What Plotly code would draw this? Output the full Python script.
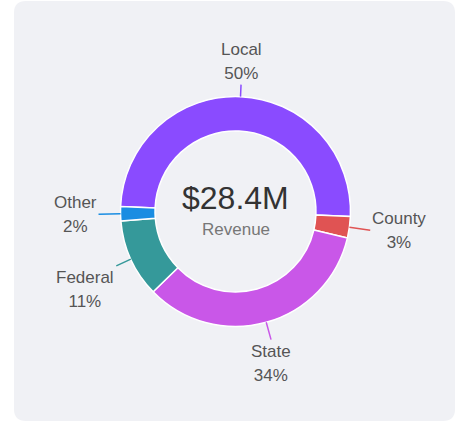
import math
import plotly.graph_objects as go

# ---- data ----
categories = ["Local", "County", "State", "Federal", "Other"]
revenue_musd = [14.2, 0.85, 9.66, 3.12, 0.57]
center_caption = "Revenue"

# ---- style ----
colors = ["#8a4bff", "#e05353", "#c957e8", "#35999a", "#1a8de2"]
leader_px = [12, 21, 18, 16, 22]  # leader line lengths per label
W, H = 462, 422
CX, CY, R = 235.5, 211.5, 115
HOLE = 0.70
ROT = -87.5
CARD = "#f0f1f5"
FONT = "Arial, Liberation Sans, sans-serif"

total = sum(revenue_musd)

fig = go.Figure()
fig.add_trace(go.Pie(
    labels=categories, values=revenue_musd, sort=False, direction="clockwise",
    rotation=ROT, hole=HOLE, textinfo="none", hoverinfo="label+percent",
    marker=dict(colors=colors, line=dict(color="#ffffff", width=1.5)),
    domain=dict(x=[(CX - R) / W, (CX + R) / W], y=[1 - (CY + R) / H, 1 - (CY - R) / H]),
    showlegend=False,
))

def px2paper(x, y):
    return x / W, 1 - y / H

annotations = []
acc = 0.0
for name, v, col, L in zip(categories, revenue_musd, colors, leader_px):
    mid = math.radians(ROT + (acc + v / 2) / total * 360)
    acc += v
    s, c = math.sin(mid), math.cos(mid)
    hx, hy = CX + R * s, CY - R * c
    xa = "left" if s > 0.3 else ("right" if s < -0.3 else "center")
    ya = "bottom" if c > 0.3 else ("top" if c < -0.3 else "middle")
    px, py = px2paper(hx, hy)
    pct = round(v / total * 100)
    annotations.append(dict(
        x=px, y=py, xref="paper", yref="paper",
        text=(f"<span style='font-size:17px'>{name}</span><br>"
              f"<span style='font-size:17px'>{pct}%</span>"),
        showarrow=True, arrowhead=0, arrowwidth=1.5,
        arrowcolor=col, ax=L * s, ay=-L * c, xanchor=xa, yanchor=ya,
        font=dict(family=FONT, size=18.5, color="#555555"), align="center",
        standoff=0, startstandoff=0,
    ))

x, y = px2paper(CX, 198)
annotations.append(dict(x=x, y=y, xref="paper", yref="paper", showarrow=False,
                        text=f"${total:.1f}M", xanchor="center", yanchor="middle",
                        font=dict(family=FONT, size=32, color="#333333")))
x, y = px2paper(CX, 230)
annotations.append(dict(x=x, y=y, xref="paper", yref="paper", showarrow=False,
                        text=center_caption, xanchor="center", yanchor="middle",
                        font=dict(family=FONT, size=17, color="#777777")))

# rounded card
x0, x1, y0, y1, rr = 14, 455, 1, 421, 12
def P(x, y):
    a, b = px2paper(x, y)
    return f"{a:.5f},{b:.5f}"
path = (f"M {P(x0 + rr, y0)} L {P(x1 - rr, y0)} Q {P(x1, y0)} {P(x1, y0 + rr)} "
        f"L {P(x1, y1 - rr)} Q {P(x1, y1)} {P(x1 - rr, y1)} "
        f"L {P(x0 + rr, y1)} Q {P(x0, y1)} {P(x0, y1 - rr)} "
        f"L {P(x0, y0 + rr)} Q {P(x0, y0)} {P(x0 + rr, y0)} Z")

fig.update_layout(
    width=W, height=H, margin=dict(l=0, r=0, t=0, b=0, pad=0),
    paper_bgcolor="#ffffff", plot_bgcolor="#ffffff",
    annotations=annotations,
    shapes=[dict(type="path", path=path, xref="paper", yref="paper",
                 fillcolor=CARD, line=dict(width=0), layer="below")],
    font=dict(family=FONT),
)

fig.write_html("out.html", config={"displayModeBar": False},
               post_script="document.body.style.margin='0';document.body.style.overflow='hidden';")
